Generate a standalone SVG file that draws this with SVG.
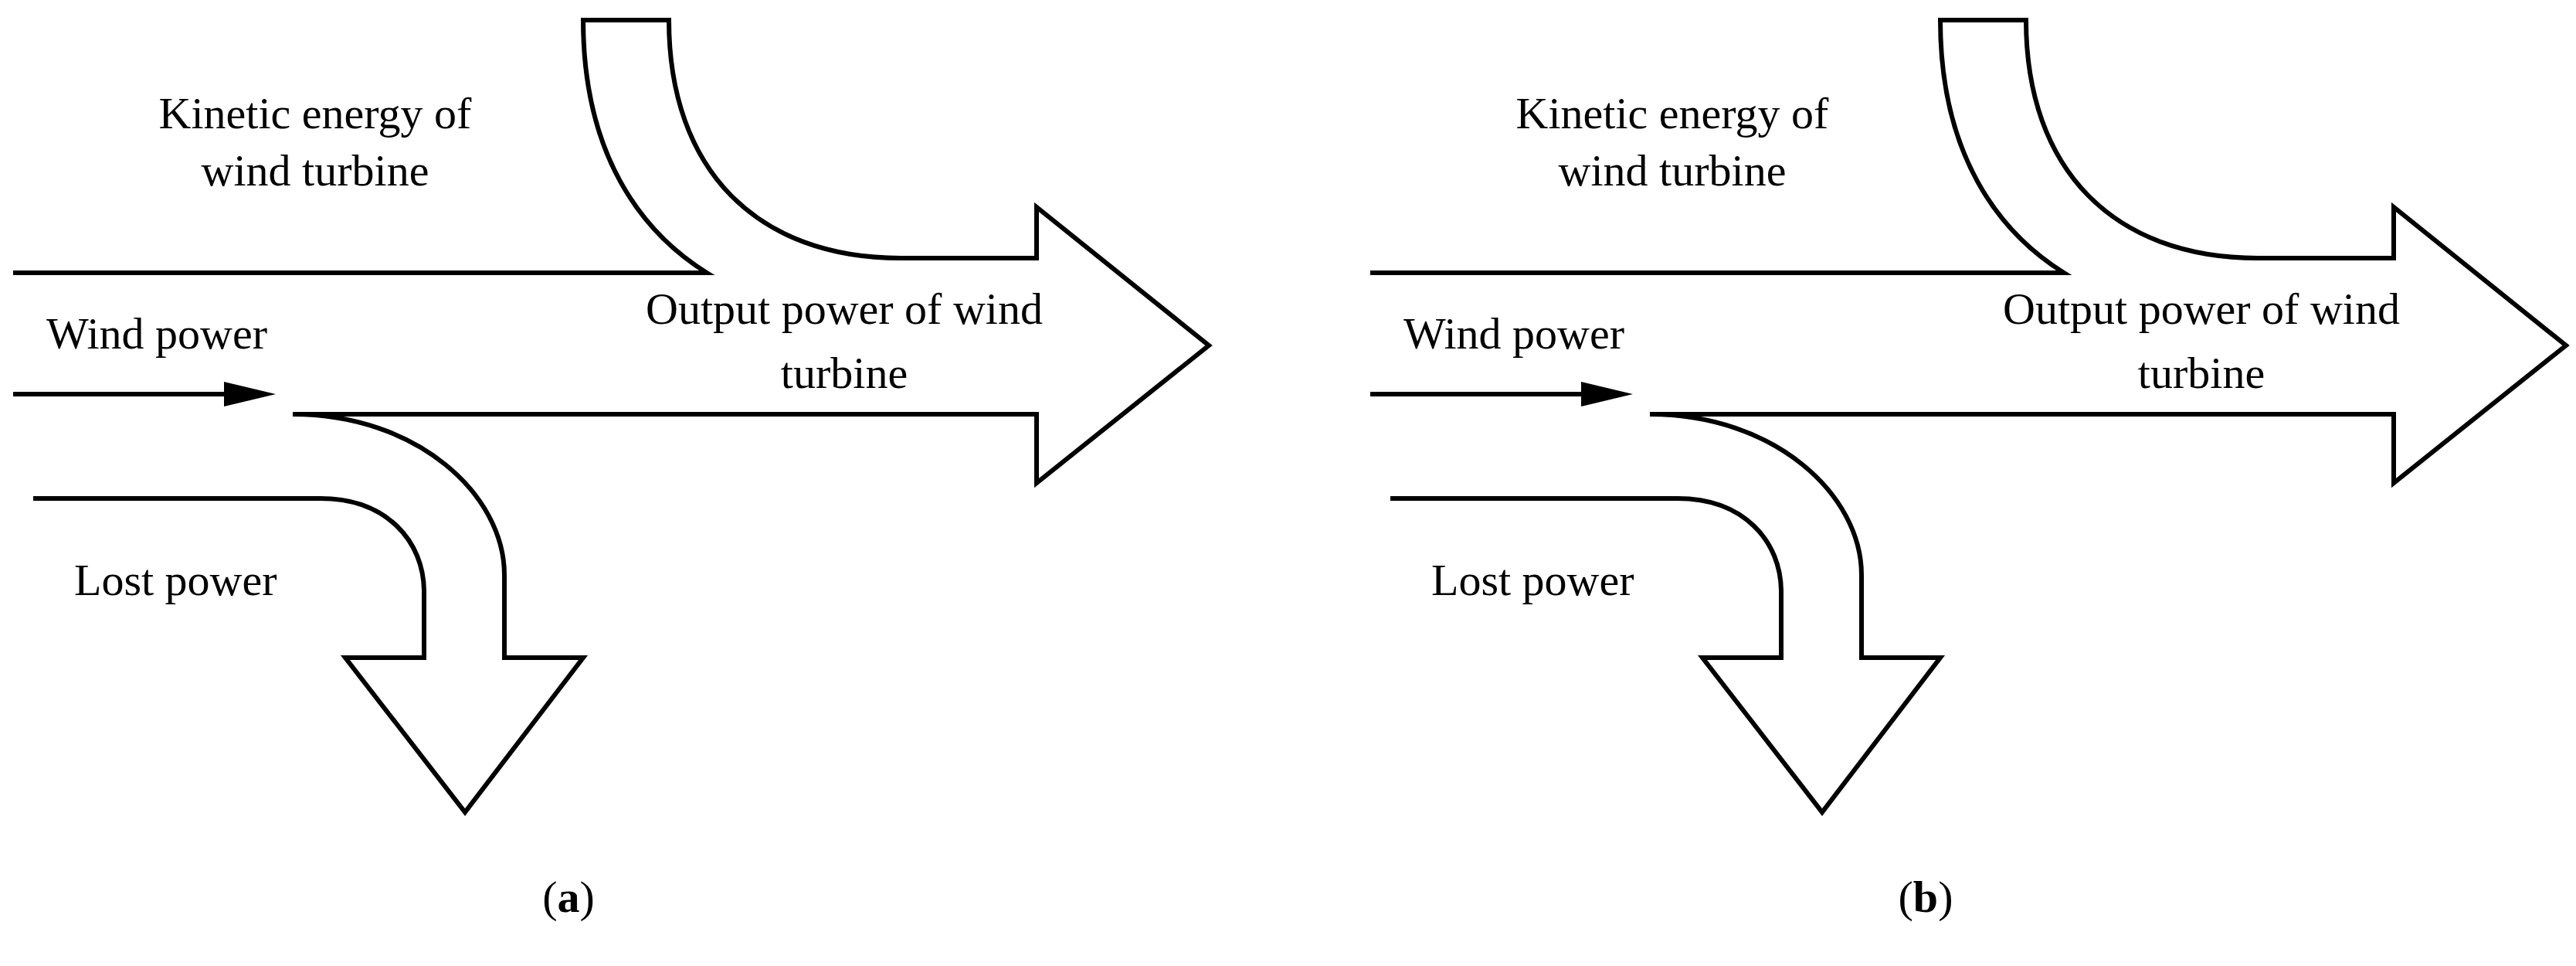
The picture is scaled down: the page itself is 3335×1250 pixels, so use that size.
<svg xmlns="http://www.w3.org/2000/svg" width="3335" height="1250" viewBox="0 0 3335 1250">
<style>
.s{fill:none;stroke:#000;stroke-width:6;stroke-linejoin:miter}
text{font-family:"Liberation Serif","Times New Roman",serif;font-size:58px;fill:#000}
</style>
<rect width="3335" height="1250" fill="#fff"/>
<g id="panel-a">
<g id="connectors-a">
<path class="s" d="M17,353 L915,353 C830,300 755,200 755,26 L866,26 C866,220 980,334 1166,334 L1342,334 L1342,268 L1565,447 L1342,625 L1342,536 L379,536 C540,536 653,640 653,744 L653,851 L755,851 L602,1051 L447,851 L549,851 L549,766 C549,700 500,645 415,645 L43,645"/>
<line class="s" x1="17" y1="510" x2="300" y2="510"/>
<polygon points="290,494 357,510 290,526" fill="#000"/>
</g>
<g id="labels-a">
<text x="408" y="166" text-anchor="middle">Kinetic energy of</text>
<text x="408" y="240" text-anchor="middle">wind turbine</text>
<text x="60" y="451">Wind power</text>
<text x="1093" y="419" text-anchor="middle">Output power of wind</text>
<text x="1093" y="502" text-anchor="middle">turbine</text>
<text x="96" y="770">Lost power</text>
<text x="736" y="1180" text-anchor="middle">(<tspan font-weight="bold">a</tspan>)</text>
</g>
</g>
<g id="panel-b" transform="translate(1757,0)">
<g id="connectors-b">
<path class="s" d="M17,353 L915,353 C830,300 755,200 755,26 L866,26 C866,220 980,334 1166,334 L1342,334 L1342,268 L1565,447 L1342,625 L1342,536 L379,536 C540,536 653,640 653,744 L653,851 L755,851 L602,1051 L447,851 L549,851 L549,766 C549,700 500,645 415,645 L43,645"/>
<line class="s" x1="17" y1="510" x2="300" y2="510"/>
<polygon points="290,494 357,510 290,526" fill="#000"/>
</g>
<g id="labels-b">
<text x="408" y="166" text-anchor="middle">Kinetic energy of</text>
<text x="408" y="240" text-anchor="middle">wind turbine</text>
<text x="60" y="451">Wind power</text>
<text x="1093" y="419" text-anchor="middle">Output power of wind</text>
<text x="1093" y="502" text-anchor="middle">turbine</text>
<text x="96" y="770">Lost power</text>
<text x="736" y="1180" text-anchor="middle">(<tspan font-weight="bold">b</tspan>)</text>
</g>
</g>
</svg>
